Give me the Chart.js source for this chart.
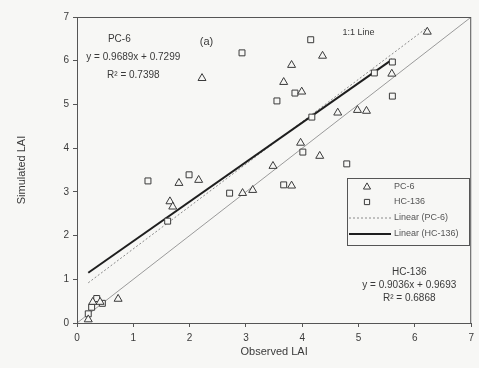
<!DOCTYPE html>
<html>
<head>
<meta charset="utf-8">
<script src="https://cdn.jsdelivr.net/npm/chart.js@4/dist/chart.umd.min.js"></script>
<style>
html, body { margin: 0; padding: 0; background: #f7f7f5; }
#wrap { width: 479px; height: 368px; }
</style>
</head>
<body>
<div id="wrap"><canvas id="laiChart"></canvas></div>
<script>
// PC-6, observed vs simulated LAI (triangles)
var pcObs = [6.22, 4.36, 3.81, 3.67, 2.22, 3.99, 5.59, 4.63, 4.98, 5.14, 1.81, 2.16, 1.65, 1.70, 2.94, 3.12, 3.97, 4.31, 3.48, 3.81, 0.20, 0.28, 0.41, 0.73];
var pcSim = [6.66, 6.11, 5.90, 5.51, 5.60, 5.29, 5.70, 4.81, 4.87, 4.85, 3.20, 3.27, 2.78, 2.66, 2.97, 3.04, 4.12, 3.82, 3.59, 3.14, 0.08, 0.48, 0.48, 0.55];
// HC-136 (squares)
var hcObs = [4.15, 2.93, 5.60, 5.28, 5.60, 3.87, 3.55, 4.17, 1.26, 1.99, 1.61, 2.71, 4.01, 4.79, 3.67, 0.20, 0.26, 0.35, 0.45];
var hcSim = [6.48, 6.18, 5.97, 5.72, 5.19, 5.26, 5.08, 4.71, 3.25, 3.39, 2.33, 2.97, 3.91, 3.64, 3.16, 0.21, 0.36, 0.56, 0.45];

// lines as drawn in the figure
var oneToOneX = [0, 7];
var oneToOneY = [0, 7];
var pcFitX = [0.2, 6.2];
var pcFitY = [0.92, 6.74];
var hcFitX = [0.2, 5.6];
var hcFitY = [1.15, 6.03];

var xTicks = [0, 1, 2, 3, 4, 5, 6, 7];
var yTicks = [0, 1, 2, 3, 4, 5, 6, 7];

var seriesNames = ['PC-6', 'HC-136', 'Linear (PC-6)', 'Linear (HC-136)'];
var pcNote = ['PC-6', 'y = 0.9689x + 0.7299', 'R\u00b2 = 0.7398'];
var hcNote = ['HC-136', 'y = 0.9036x + 0.9693', 'R\u00b2 = 0.6868'];
var panelLabel = '(a)';
var lineLabel = '1:1 Line';

var ink = '#3a3a3a';
var paper = '#f7f7f5';
var fontName = '"Liberation Sans", Arial, sans-serif';

function toPoints(xs, ys) {
    var pts = [];
    for (var i = 0; i < xs.length; i++) pts.push({ x: xs[i], y: ys[i] });
    return pts;
}

// рамка, подписи уравнений и легенда внутри поля графика
var decorPlugin = {
    id: 'decor',
    afterDatasetsDraw: function (chart) {
        var ctx = chart.ctx;
        var a = chart.chartArea;
        var xs = chart.scales.x, ys = chart.scales.y;
        ctx.save();
        ctx.strokeStyle = '#555';
        ctx.lineWidth = 1;
        ctx.strokeRect(a.left + 0.5, a.top + 0.5, a.right - a.left - 1, a.bottom - a.top);

        ctx.fillStyle = ink;
        ctx.textAlign = 'center';
        ctx.textBaseline = 'middle';
        ctx.font = '10px ' + fontName;
        var px = xs.getPixelForValue(1.0), py = ys.getPixelForValue(6.5);
        for (var i = 0; i < pcNote.length; i++) ctx.fillText(pcNote[i], px + (i == 0 ? -14 : 0), py + i * 18);
        var hx = xs.getPixelForValue(5.9), hy = ys.getPixelForValue(1.17);
        for (var j = 0; j < hcNote.length; j++) ctx.fillText(hcNote[j], hx, hy + j * 13);
        ctx.font = '11px ' + fontName;
        ctx.fillText(panelLabel, xs.getPixelForValue(2.3), ys.getPixelForValue(6.42));
        ctx.font = '9px ' + fontName;
        ctx.fillText(lineLabel, xs.getPixelForValue(5.0), ys.getPixelForValue(6.65));

        // легенда
        var bx = 347, by = 178, bw = 122, bh = 67;
        ctx.fillStyle = paper;
        ctx.fillRect(bx, by, bw, bh);
        ctx.strokeStyle = '#555';
        ctx.strokeRect(bx + 0.5, by + 0.5, bw, bh);
        ctx.textAlign = 'left';
        ctx.font = '9px ' + fontName;
        var rows = [by + 9, by + 24, by + 40, by + 56];
        for (var k = 0; k < seriesNames.length; k++) {
            var ds = chart.data.datasets[k];
            var y = rows[k];
            ctx.save();
            if (k < 2) {
                ctx.fillStyle = paper;
                ctx.strokeStyle = ink;
                ctx.lineWidth = 1;
                Chart.helpers.drawPoint(ctx, { pointStyle: ds.pointStyle, radius: ds.pointRadius - 0.5, borderWidth: 1 }, bx + 20, y);
            } else {
                ctx.strokeStyle = ds.borderColor;
                ctx.lineWidth = ds.borderWidth;
                ctx.setLineDash(ds.borderDash || []);
                ctx.beginPath();
                ctx.moveTo(bx + 2, y);
                ctx.lineTo(bx + 44, y);
                ctx.stroke();
            }
            ctx.restore();
            ctx.fillStyle = '#555';
            ctx.fillText(seriesNames[k], bx + 47, y);
        }
        ctx.restore();
    }
};

var chart = new Chart(document.getElementById('laiChart'), {
    type: 'scatter',
    data: {
        datasets: [
            {
                label: seriesNames[0], data: toPoints(pcObs, pcSim),
                pointStyle: 'triangle', pointRadius: 4.6, borderColor: ink, backgroundColor: paper, borderWidth: 1, order: 0
            },
            {
                label: seriesNames[1], data: toPoints(hcObs, hcSim),
                pointStyle: 'rect', pointRadius: 4.2, borderColor: ink, backgroundColor: paper, borderWidth: 1, order: 1
            },
            {
                label: seriesNames[2], data: toPoints(pcFitX, pcFitY), showLine: true, pointRadius: 0,
                borderColor: '#8a8a8a', borderWidth: 1, borderDash: [2, 2], order: 3
            },
            {
                label: seriesNames[3], data: toPoints(hcFitX, hcFitY), showLine: true, pointRadius: 0,
                borderColor: '#1e1e1e', borderWidth: 2, order: 2
            },
            {
                label: lineLabel, data: toPoints(oneToOneX, oneToOneY), showLine: true, pointRadius: 0,
                borderColor: '#9a9a9a', borderWidth: 1, order: 4
            }
        ]
    },
    options: {
        responsive: true,
        maintainAspectRatio: false,
        animation: false,
        layout: { padding: { left: 0, right: 7, top: 17, bottom: 0 } },
        plugins: { legend: { display: false }, tooltip: { enabled: false } },
        scales: {
            x: {
                type: 'linear', min: 0, max: 7,
                afterBuildTicks: function (s) { s.ticks = xTicks.map(function (v) { return { value: v }; }); },
                afterFit: function (s) { s.height = 45; },
                grid: { display: true, drawOnChartArea: false, drawTicks: true, tickLength: 4, color: '#555' },
                border: { display: true, color: '#555' },
                ticks: { color: ink, font: { family: fontName, size: 10 }, padding: 5 },
                title: { display: true, text: 'Observed LAI', color: ink, font: { family: fontName, size: 11 }, padding: { top: 0, bottom: 9 } }
            },
            y: {
                type: 'linear', min: 0, max: 7,
                afterBuildTicks: function (s) { s.ticks = yTicks.map(function (v) { return { value: v }; }); },
                afterFit: function (s) { s.width = 77; },
                grid: { display: true, drawOnChartArea: false, drawTicks: true, tickLength: 4, color: '#555' },
                border: { display: true, color: '#555' },
                ticks: { color: ink, font: { family: fontName, size: 10 }, padding: 4 },
                title: { display: true, text: 'Simulated LAI', color: ink, font: { family: fontName, size: 11 }, padding: { top: 15, bottom: 0 } }
            }
        }
    },
    plugins: [decorPlugin]
});
</script>
</body>
</html>
